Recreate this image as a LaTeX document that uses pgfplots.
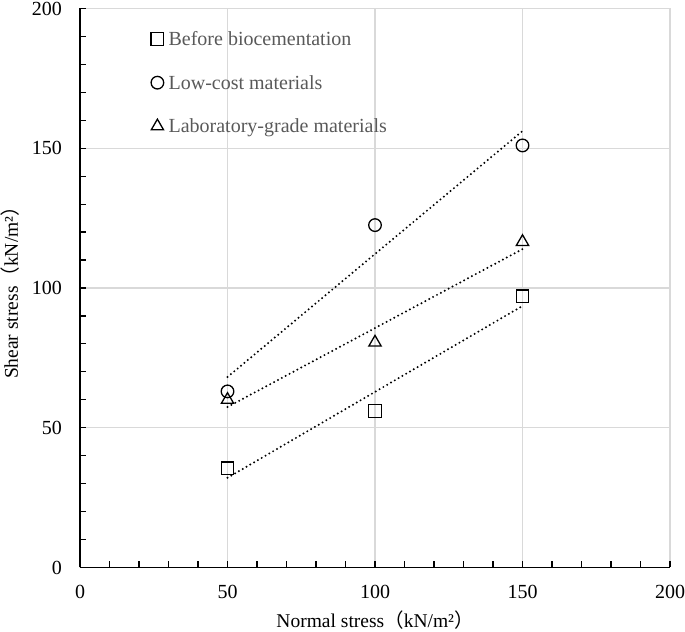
\documentclass[border=0pt]{standalone}
\usepackage{fontspec}
\setmainfont{Liberation Serif}
\newfontfamily\cjk{Noto Sans CJK SC}
\usepackage{pgfplots}
\usepackage{pgfplotstable}
\pgfplotsset{compat=1.18}

\definecolor{legtext}{HTML}{595959}
\definecolor{gridc}{HTML}{D9D9D9}

% measured values
\pgfplotstableread{
x y
50 35.5
100 56
150 97
}\before
\pgfplotstableread{
x y
50 63
100 122.5
150 151
}\lowcost
\pgfplotstableread{
x y
50 60
100 80.5
150 116.5
}\labgrade

\begin{document}
\begin{tikzpicture}
\begin{axis}[
    scale only axis,
    width=590pt, height=559pt,
    xmin=0, xmax=200, ymin=0, ymax=200,
    xtick={0,50,...,200}, ytick={0,50,...,200},
    minor tick num=4,
    axis x line=bottom, axis y line=left,
    axis line style={-, line width=1.8pt},
    tick align=inside,
    major tick length=6pt, minor tick length=6pt,
    every tick/.style={black, line width=1.2pt},
    grid=major,
    major grid style={gridc, line width=1.1pt},
    /pgf/number format/assume math mode=true,
    tick label style={font=\fontsize{20}{24}\selectfont, inner sep=0pt},
    xticklabel style={yshift=-18pt},
    yticklabel style={xshift=-18pt},
    label style={font=\fontsize{19.5}{23}\selectfont, inner sep=0pt},
    xlabel={Normal stress{\cjk （}kN/m²{\cjk ）}},
    ylabel={Shear stress{\cjk （}kN/m²{\cjk ）}},
    xlabel style={at={(axis description cs:0.5,0)}, anchor=base, yshift=-60.5pt, text depth=4pt},
    ylabel style={at={(axis description cs:-0.1051,0.5)}, anchor=base, text height=18pt},
    legend style={draw=none, fill=none, inner sep=0pt,
        at={(axis cs:24,192.1)}, anchor=north west,
        font=\fontsize{20}{24}\selectfont, text=legtext, row sep=27pt,
        nodes={inner sep=0pt, text height=15pt, text depth=1.6pt},
        cells={anchor=west}},
    legend image code/.code={\draw[#1] plot coordinates {(0pt,0pt)}; \path (-6.2pt,0pt) (11pt,0pt);},
    dotline/.style={black, line width=2.2pt, dash pattern=on 0pt off 4.4pt, line cap=round, forget plot},
]
\addplot[only marks, mark=square, mark size=6.3pt, mark options={draw=black, fill=none, line width=1.3pt}] table[x=x, y=y] {\before};
\addlegendentry{Before biocementation}
\addplot[only marks, mark=o, mark size=6.3pt, mark options={draw=black, fill=none, line width=1.3pt}] table[x=x, y=y] {\lowcost};
\addlegendentry{Low-cost materials}
\addplot[only marks, mark=triangle, mark size=7.1pt, mark options={draw=black, fill=none, line width=1.3pt}] table[x=x, y=y] {\labgrade};
\addlegendentry{Laboratory-grade materials}

\addplot[dotline] table[x=x, y={create col/linear regression={y=y}}] {\before};
\addplot[dotline] table[x=x, y={create col/linear regression={y=y}}] {\lowcost};
\addplot[dotline] table[x=x, y={create col/linear regression={y=y}}] {\labgrade};
\end{axis}
\path (current axis.north) ++(0,8.5pt) coordinate (topmargin);
\end{tikzpicture}
\end{document}
